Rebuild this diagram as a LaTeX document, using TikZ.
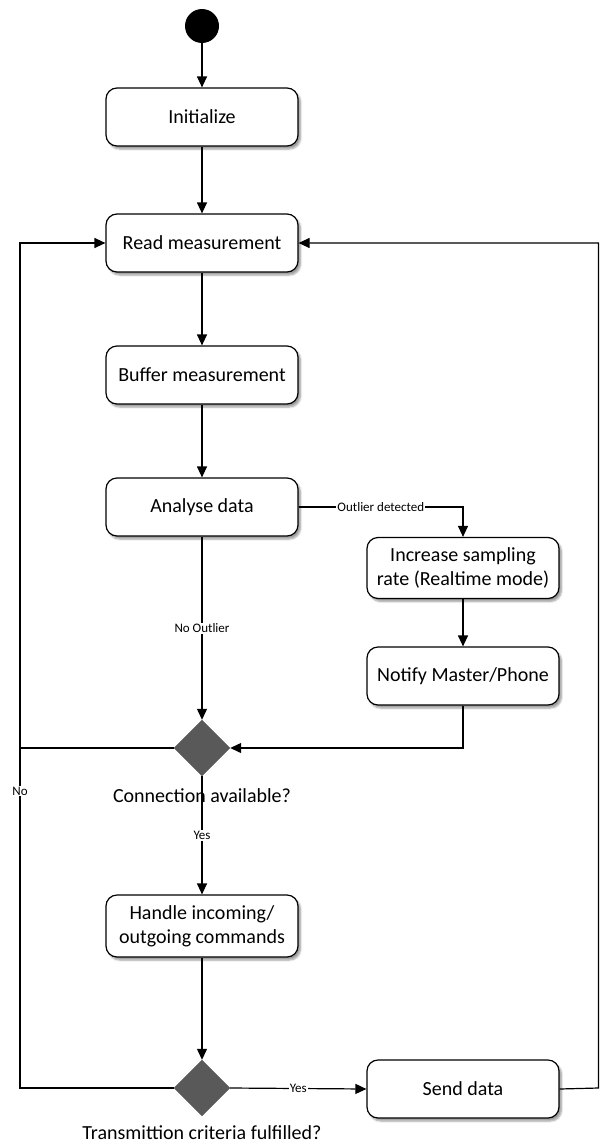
\documentclass[tikz,border=0pt]{standalone}
\usepackage{fontspec}
\setmainfont{Carlito}
\usetikzlibrary{arrows.meta,shapes.geometric,shadows.blur}
\definecolor{dgray}{RGB}{89,89,89}
\begin{document}
\begin{tikzpicture}[x=1pt,y=-1pt,
  act/.style={draw=black,line width=1.2pt,rounded corners=11pt,fill=white,
    minimum width=192pt,minimum height=58pt,inner sep=2pt,align=center,
    font=\fontsize{20}{24}\selectfont,
    blur shadow={shadow xshift=2.5pt,shadow yshift=-3pt,shadow blur steps=5,shadow opacity=40}},
  dec/.style={diamond,aspect=1,fill=dgray,draw=dgray,minimum width=56pt,minimum height=56pt,inner sep=0pt},
  flow/.style={line width=1.2pt,-{Triangle[length=11pt,width=10pt]}},
  plain/.style={line width=1.2pt},
  lbl/.style={fill=white,inner sep=1pt,font=\fontsize{13}{15}\selectfont},
  qtext/.style={font=\fontsize{20}{24}\selectfont,inner sep=0pt}]
\useasboundingbox (0,0) rectangle (600,1146);
\node[circle,fill=black,minimum size=34pt,inner sep=0pt] (start) at (202,26) {};
\node[act] (init) at (202,117) {Initialize};
\node[act] (read) at (202,243) {Read measurement};
\node[act] (buf) at (202,375) {Buffer measurement};
\node[act] (ana) at (202,507) {Analyse data};
\node[act,minimum height=61pt] (inc) at (463,568) {Increase sampling\\rate (Realtime mode)};
\node[act] (notify) at (463,676) {Notify Master/Phone};
\node[dec] (d1) at (202,748) {};
\node[qtext] (q1) at (202,796) {Connection available?};
\node[act,minimum height=62pt] (handle) at (202,926) {Handle incoming/\\outgoing commands};
\node[dec] (d2) at (202,1088) {};
\node[qtext] (q2) at (202,1133) {Transmittion criteria fulfilled?};
\node[act] (send) at (463,1089) {Send data};
\coordinate (L1) at (20,748);
\coordinate (L2) at (20,1088);
\coordinate (R1) at (598.5,1088);

\draw[flow] (start) -- (init);
\draw[flow] (init) -- (read);
\draw[flow] (read) -- (buf);
\draw[flow] (buf) -- (ana);
\draw[flow] (ana.east) -| node[lbl,pos=0.25]{Outlier detected} (inc.north);
\draw[flow] (ana) -- node[lbl]{No Outlier} (d1.north);
\draw[flow] (inc) -- (notify);
\draw[flow] (notify.south) |- (d1.east);
\draw[flow] (d1.west) -- (L1) |- (read.west);
\draw[flow] (d1.south) -- node[lbl]{Yes} (handle.north);
\draw[flow] (handle) -- (d2.north);
\draw[flow] (d2.east) -- node[lbl]{Yes} (send.west);
\draw[plain] (d2.west) -- (L2) -- node[lbl,pos=0.873]{No} (L1);
\draw[flow] (send.east) -- (R1) |- (read.east);
\end{tikzpicture}
\end{document}
